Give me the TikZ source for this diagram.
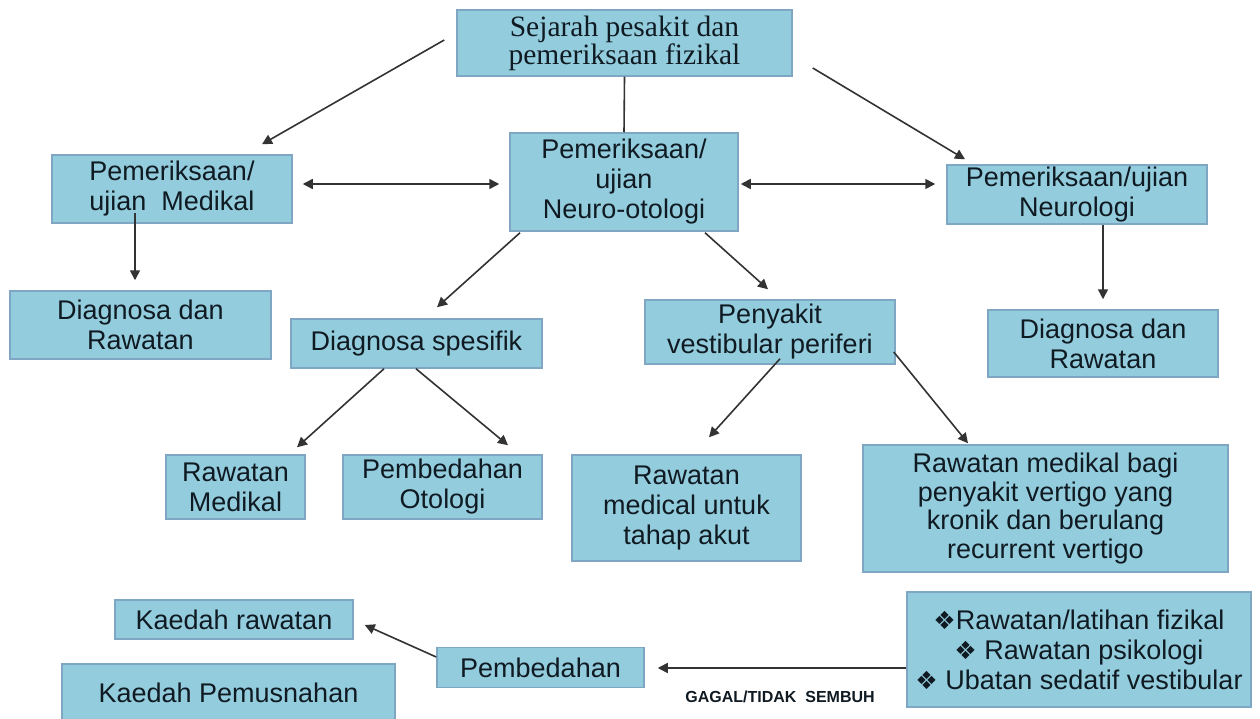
\documentclass[tikz,border=0pt]{standalone}
\usepackage{fontspec}
\setmainfont{Liberation Sans}
\newfontfamily\serifface{Liberation Serif}
\newfontfamily\symface{DejaVu Sans}
\usetikzlibrary{arrows.meta,calc}

\definecolor{boxfill}{HTML}{93CDDD}
\definecolor{boxline}{HTML}{7FA7C4}
\definecolor{inkc}{HTML}{101A22}
\definecolor{wire}{HTML}{333333}

\newcommand{\dia}{{\symface\fontsize{25}{25}\selectfont ❖}}

\tikzset{
  blk/.style={draw=boxline, fill=boxfill, line width=1.5pt, inner sep=0pt,
    align=center, text=inkc, font=\fontsize{27}{30}\selectfont},
  tip/.tip={Triangle[length=10pt,width=10pt]},
  link/.style={draw=wire, line width=1.6pt, -tip},
  both/.style={draw=wire, line width=1.6pt, tip-tip},
  plain/.style={draw=wire, line width=1.6pt}
}

\begin{document}
\begin{tikzpicture}[x=1pt,y=-1pt]
\useasboundingbox (0,0) rectangle (1260,719);
\fill[white] (0,0) rectangle (1260,719);

% boxes
\node[blk, minimum width=335pt, minimum height=66pt,
      font=\serifface\fontsize{29.5}{28}\selectfont] (sej) at (624.5,43)
      {Sejarah pesakit dan\\pemeriksaan fizikal};
\node[blk, minimum width=240pt, minimum height=68pt] (med) at (172,189)
      {Pemeriksaan/\\ujian\ \ Medikal};
\node[blk, minimum width=228pt, minimum height=98pt] (neuro) at (624,182)
      {Pemeriksaan/\\ujian\\Neuro-otologi};
\node[blk, minimum width=260pt, minimum height=59pt] (nlg) at (1077,194.5)
      {Pemeriksaan/ujian\\Neurologi};
\node[blk, minimum width=261pt, minimum height=68pt] (dl) at (140.5,325)
      {Diagnosa dan\\Rawatan};
\node[blk, minimum width=251pt, minimum height=49pt] (ds) at (416.5,343.5)
      {Diagnosa spesifik};
\node[blk, minimum width=250pt, minimum height=64pt] (pvp) at (770,332)
      {Penyakit\\vestibular periferi};
\node[blk, minimum width=230pt, minimum height=67pt] (dr) at (1103,343.5)
      {Diagnosa dan\\Rawatan};
\node[blk, minimum width=139pt, minimum height=64pt] (rm) at (235.5,487)
      {Rawatan\\Medikal};
\node[blk, minimum width=199pt, minimum height=64pt] (po) at (442.5,487)
      {Pembedahan\\Otologi};
\node[blk, minimum width=229pt, minimum height=106pt] (ra) at (686.5,508)
      {Rawatan\\medical untuk\\tahap akut};
\node[blk, minimum width=365pt, minimum height=127pt, font=\fontsize{27}{28.5}\selectfont]
      (rmb) at (1045.5,508.5)
      {Rawatan medikal bagi\\penyakit vertigo yang\\kronik dan berulang\\recurrent vertigo};
\node[blk, minimum width=238pt, minimum height=39pt] (kr) at (234,619.5)
      {Kaedah rawatan};
\node[blk, minimum width=333pt, minimum height=57pt] (kp) at (228.5,692.5)
      {Kaedah Pemusnahan};
\node[blk, minimum width=207pt, minimum height=40pt] (pem) at (540.5,667.5)
      {Pembedahan};
\node[blk, minimum width=344pt, minimum height=115pt] (bul) at (1079,649.5)
      {\dia Rawatan/latihan fizikal\\\dia\ Rawatan psikologi\\\dia\ Ubatan sedatif vestibular};

% label on the bottom connector
\node[text=inkc, font=\bfseries\fontsize{16}{16}\selectfont, inner sep=0pt]
      (gagal) at (780,697) {GAGAL/TIDAK\ \ SEMBUH};

% free ends of connectors
\coordinate (sejL) at ($(sej.west)+(-12,-3)$);
\coordinate (sejR) at ($(sej.east)+(20,25)$);
\coordinate (medfoot) at ($(med.south)+(-37,-11)$);

% connectors
\draw[link] (sejL) -- ($(med.north)+(90,-10)$);
\draw[plain] (sej.south) -- (neuro.north);
\draw[link] (sejR) -- ($(nlg.north)+(-112,-5)$);
\draw[both] ($(med.east)+(10,-5)$) -- ($(neuro.west)+(-10,2)$);
\draw[both] ($(neuro.east)+(2,2)$) -- ($(nlg.west)+(-11,-10.5)$);
\draw[link] (medfoot) -- ($(medfoot |- dl.north)+(0,-10)$);
\draw[link] ($(neuro.south)+(-104,1)$) -- ($(ds.north)+(20.5,-11)$);
\draw[link] ($(neuro.south)+(81,1)$) -- ($(pvp.north)+(-2,-10)$);
\draw[link] ($(nlg.south)+(26,0)$) -- ($(dr.north)+(0,-10)$);
\draw[link] ($(ds.south)+(-32.5,0)$) -- ($(rm.north)+(61.5,-7)$);
\draw[link] ($(ds.south)+(-0.5,0)$) -- ($(po.north)+(65.5,-9)$);
\draw[link] ($(pvp.south)+(10,-6)$) -- ($(ra.north)+(22.5,-17)$);
\draw[link] ($(pvp.east)+(-2,20)$) -- ($(rmb.north)+(-77.5,-1)$);
\draw[link] ($(bul.west)+(0,18.5)$) -- ($(pem.east)+(13,0.5)$);
\draw[link] ($(pem.west)+(0,-10.5)$) -- ($(kr.east)+(11,5.5)$);
\end{tikzpicture}
\end{document}
